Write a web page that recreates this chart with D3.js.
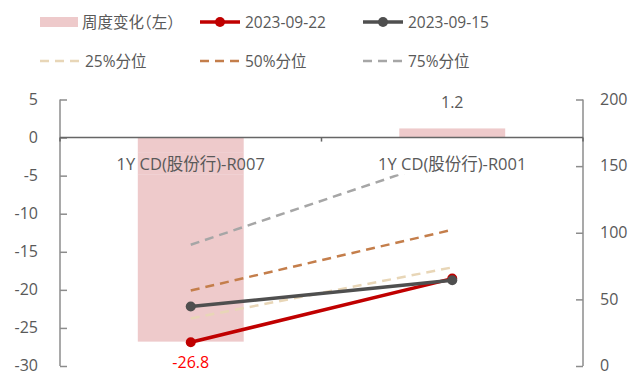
<!DOCTYPE html>
<html>
<head>
<meta charset="utf-8">
<script src="https://cdn.jsdelivr.net/npm/d3@7"></script>
<style>
  html, body { margin: 0; padding: 0; background: #fff; }
  svg { display: block; }
  text { font-family: "Open Sans", "Noto Sans CJK SC", sans-serif; fill: #595959; font-feature-settings: "halt"; }
</style>
</head>
<body>
<svg id="chart" width="633" height="373"></svg>
<script>
// Categories and series
const categories = ["1Y CD(股份行)-R007", "1Y CD(股份行)-R001"];
const weeklyChange = [-26.8, 1.2];          // left axis, bars
const spread0922 = [17.8, 65.6];             // right axis
const spread0915 = [44.6, 64.4];             // right axis
const pct25 = [35.7, 74.0];
const pct50 = [56.7, 102.2];
const pct75 = [91.0, 157.0];
const leftTicks = [5, 0, -5, -10, -15, -20, -25, -30];
const rightTicks = [0, 50, 100, 150, 200];

const svg = d3.select("#chart");
const margin = { left: 60, right: 583, top: 99.5, bottom: 366 };

const x = d3.scaleBand().domain(categories).range([margin.left, margin.right]).paddingInner(0).paddingOuter(0);
const yL = d3.scaleLinear().domain([-30, 5]).range([margin.bottom, margin.top]);
const yR = d3.scaleLinear().domain([0, 200]).range([margin.bottom, margin.top]);
const cx = c => x(c) + x.bandwidth() / 2;
const barW = x.bandwidth() * 0.405;

const axisColor = "#8c8c8c";
const fmtNum = f => v => f(v).replace("\u2212", "-");

// Bars: weekly change
const barsData = categories.map((c, i) => ({ c, v: weeklyChange[i] }));
const drawBars = g => g.selectAll("rect.bar").data(barsData).join("rect")
  .attr("class", "bar")
  .attr("x", d => cx(d.c) - barW / 2)
  .attr("width", barW)
  .attr("y", d => yL(Math.max(0, d.v)))
  .attr("height", d => Math.abs(yL(d.v) - yL(0)))
  .attr("fill", "#EECACB");
svg.append("g").call(drawBars);

// Left axis
const gl = svg.append("g").attr("transform", `translate(${margin.left},0)`)
  .call(d3.axisLeft(yL).tickValues(leftTicks).tickSize(-7).tickPadding(22).tickFormat(fmtNum(d3.format("d"))));
gl.select(".domain").attr("stroke", axisColor).attr("stroke-width", 1.5).attr("d", `M0,${yL(5)}V${yL(-30)}`);
gl.selectAll(".tick line").attr("stroke", axisColor).attr("stroke-width", 1.5);
gl.selectAll(".tick text").style("font-size", "16px").attr("fill", "#595959").attr("dy", "0.3em");

// Right axis
const gr = svg.append("g").attr("transform", `translate(${margin.right},0)`)
  .call(d3.axisRight(yR).tickValues(rightTicks).tickSize(-7).tickPadding(17));
gr.select(".domain").attr("stroke", axisColor).attr("stroke-width", 1.5).attr("d", `M0,${yR(200)}V${yR(0)}`);
gr.selectAll(".tick line").attr("stroke", axisColor).attr("stroke-width", 1.5);
gr.selectAll(".tick text").style("font-size", "16px").attr("fill", "#595959").attr("dy", "0.3em");

// Zero line (category axis) with boundary ticks
svg.append("line").attr("x1", margin.left).attr("x2", margin.right)
  .attr("y1", yL(0)).attr("y2", yL(0)).attr("stroke", "#666").attr("stroke-width", 1.5);
svg.append("g").selectAll("line").data([margin.left, margin.left + x.bandwidth(), margin.right]).join("line")
  .attr("x1", d => d).attr("x2", d => d).attr("y1", yL(0)).attr("y2", yL(0) + 4)
  .attr("stroke", "#666").attr("stroke-width", 1.5);

// Lines
const line = d3.line().x(d => cx(d.c)).y(d => yR(d.v));
const toPts = arr => categories.map((c, i) => ({ c, v: arr[i] }));
const series = [
  { vals: pct25, color: "#E8D6B7", dash: "9,6", w: 2.5 },
  { vals: pct50, color: "#C47E4B", dash: "9,6", w: 2.5 },
  { vals: pct75, color: "#A6A6A6", dash: "9,6", w: 2.5 },
  { vals: spread0922, color: "#C00000", dash: null, w: 3.5, marker: true },
  { vals: spread0915, color: "#4F4F4F", dash: null, w: 3.5, marker: true }
];
series.forEach(s => {
  svg.append("path").datum(toPts(s.vals)).attr("d", line)
    .attr("fill", "none").attr("stroke", s.color).attr("stroke-width", s.w)
    .attr("stroke-dasharray", s.dash);
  if (s.marker) {
    svg.append("g").selectAll("circle").data(toPts(s.vals)).join("circle")
      .attr("cx", d => cx(d.c)).attr("cy", d => yR(d.v)).attr("r", 5).attr("fill", s.color);
  }
});

// Category labels: opaque box that keeps the bar beneath it but hides lines
const labelY = yL(0) + 32;
const labelBoxes = categories.map(c => ({ c, x0: cx(c) - 82, x1: cx(c) + 82, y0: labelY - 17, y1: labelY + 5 }));
const defs = svg.append("defs");
labelBoxes.forEach((b, i) => {
  defs.append("clipPath").attr("id", "lab" + i).append("rect")
    .attr("x", b.x0).attr("y", b.y0).attr("width", b.x1 - b.x0).attr("height", b.y1 - b.y0);
  const g = svg.append("g").attr("clip-path", `url(#lab${i})`);
  g.append("rect").attr("x", b.x0).attr("y", b.y0).attr("width", b.x1 - b.x0).attr("height", b.y1 - b.y0).attr("fill", "#fff");
  g.call(drawBars);
});
svg.append("g").selectAll("text").data(categories).join("text")
  .attr("x", d => cx(d)).attr("y", labelY).attr("text-anchor", "middle")
  .style("font-size", "16.5px").text(d => d);

// Bar value labels
svg.append("g").selectAll("text").data(barsData).join("text")
  .attr("x", d => cx(d.c))
  .attr("y", d => d.v < 0 ? yL(d.v) + 26 : yL(d.v) - 20)
  .attr("text-anchor", "middle").style("font-size", "16px")
  .style("fill", d => d.v < 0 ? "#FF0000" : "#595959")
  .text(d => fmtNum(d3.format(".1f"))(d.v));

// Legend
const legend = [
  { label: "周度变化（左）", type: "bar", color: "#EECACB", x: 40, y: 22 },
  { label: "2023-09-22", type: "line", color: "#C00000", x: 200, y: 22 },
  { label: "2023-09-15", type: "line", color: "#4F4F4F", x: 363, y: 22 },
  { label: "25%分位", type: "dash", color: "#E8D6B7", x: 40, y: 61 },
  { label: "50%分位", type: "dash", color: "#C47E4B", x: 200, y: 61 },
  { label: "75%分位", type: "dash", color: "#A6A6A6", x: 363, y: 61 }
];
const lg = svg.append("g").selectAll("g").data(legend).join("g")
  .attr("transform", d => `translate(${d.x},${d.y})`);
lg.filter(d => d.type === "bar").append("rect")
  .attr("x", 0).attr("y", -5).attr("width", 38).attr("height", 10).attr("fill", d => d.color);
lg.filter(d => d.type !== "bar").append("line")
  .attr("x1", 0).attr("x2", 40).attr("y1", 0).attr("y2", 0)
  .attr("stroke", d => d.color).attr("stroke-width", d => d.type === "line" ? 3.5 : 2.5)
  .attr("stroke-dasharray", d => d.type === "dash" ? "9,6" : null);
lg.filter(d => d.type === "line").append("circle")
  .attr("cx", 20).attr("cy", 0).attr("r", 5).attr("fill", d => d.color);
lg.append("text").attr("x", d => d.type === "bar" ? 42 : 45).attr("y", 0).attr("dy", "0.36em")
  .style("font-size", "15.5px").text(d => d.label);
</script>
</body>
</html>
